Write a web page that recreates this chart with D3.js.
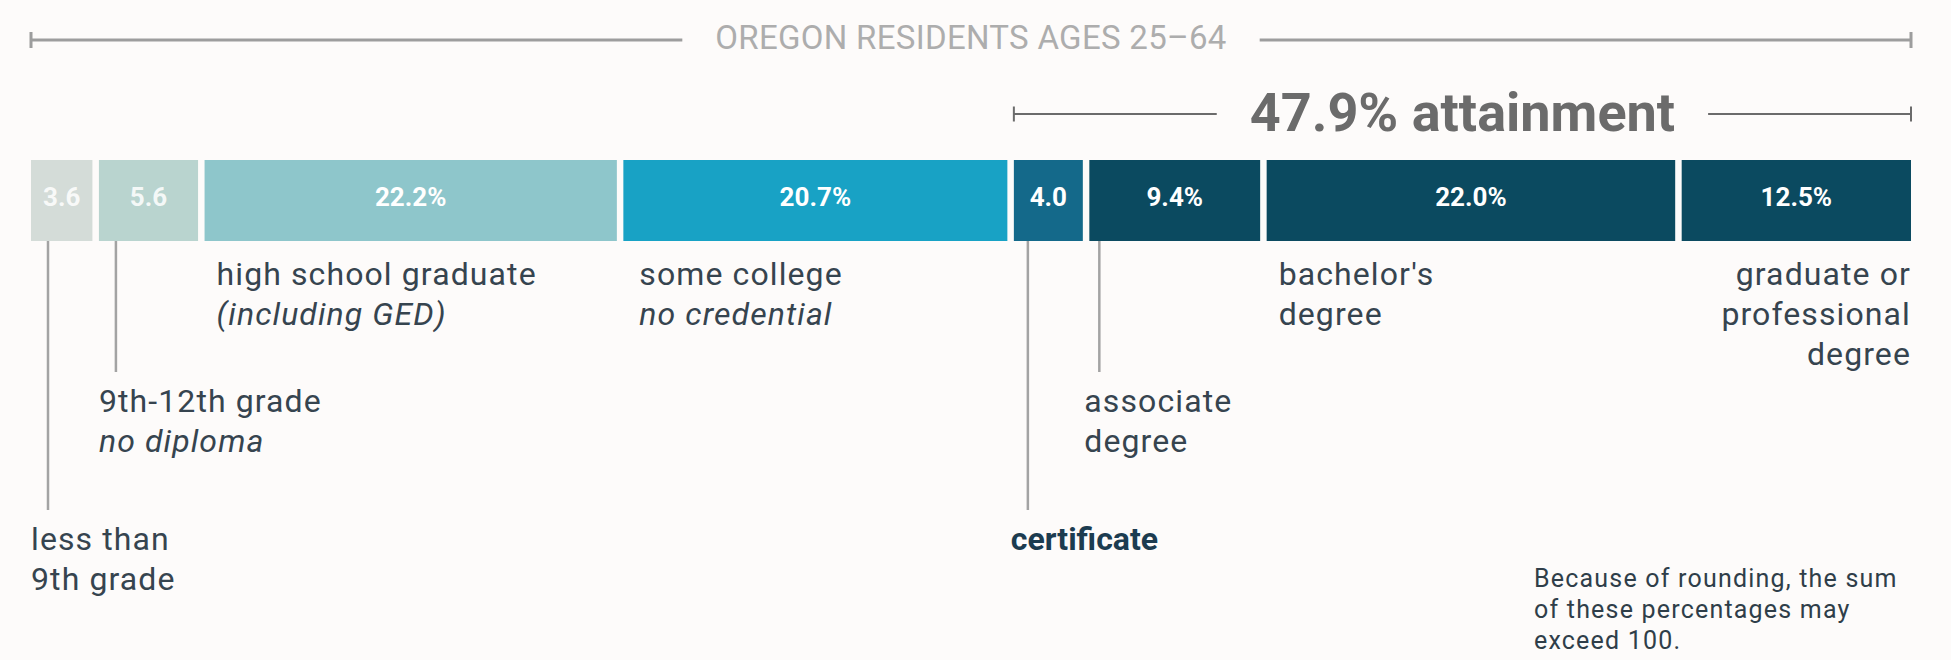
<!DOCTYPE html>
<html>
<head>
<meta charset="utf-8">
<title>Oregon educational attainment</title>
<script src="https://cdn.jsdelivr.net/npm/d3@7"></script>
<style>
  body { margin: 0; background: #fdfbfa; }
  svg { display: block; font-family: Roboto, "Liberation Sans", sans-serif; }
</style>
</head>
<body>
<script>
// shares of Oregon residents 25-64, by highest level of education (%)
var categories = ["less than 9th grade", "9th-12th grade", "high school graduate", "some college",
                  "certificate", "associate degree", "bachelor's degree", "graduate or professional degree"];
var values = [3.6, 5.6, 22.2, 20.7, 4.0, 9.4, 22.0, 12.5];
// how the category names are broken into lines under the bar, plus the italic qualifier
var labelLines = [["less than", "9th grade"], ["9th-12th grade"], ["high school graduate"], ["some college"],
                  ["certificate"], ["associate", "degree"], ["bachelor's", "degree"], ["graduate or", "professional", "degree"]];
var qualifiers = [null, "no diploma", "(including GED)", "no credential", null, null, null, null];
var attainmentFrom = 4;   // categories from "certificate" on count as attainment
var title = "OREGON RESIDENTS AGES 25\u201364";
var footnote = ["Because of rounding, the sum", "of these percentages may", "exceed 100."];

var w = 1951, h = 660;
var gap = 6.5;
var barTop = 160, barH = 81;

var svg = d3.select("body").append("svg")
    .attr("width", w)
    .attr("height", h);

var x = d3.scaleLinear().domain([0, 100]).range([31, 1917.5]);

var color = d3.scaleOrdinal()
    .domain(categories)
    .range(["#d4dcd8", "#b9d4cf", "#8ec6cb", "#18a2c5", "#14698a", "#0b4a60", "#0b4a60", "#0b4a60"]);

// cumulative start of each segment
var data = [];
var acc = 0;
values.forEach(function (v, i) {
    data.push({ name: categories[i], value: v, start: acc, end: acc + v, i: i });
    acc += v;
});
var total = acc;
var left = x(0), right = x(total) - gap;

// top bracket with title
var titleY = 40;
var t = svg.append("text")
    .attr("x", (left + right) / 2)
    .attr("y", 49)
    .attr("text-anchor", "middle")
    .attr("font-size", 33)
    .attr("letter-spacing", 0.3)
    .attr("fill", "#adadad")
    .text(title);
var tb = t.node().getBBox();

function bracket(x0, x1, y, tb, pad, stroke, sw, tick) {
    svg.append("line").attr("x1", x0).attr("x2", tb.x - pad).attr("y1", y).attr("y2", y)
        .attr("stroke", stroke).attr("stroke-width", sw);
    svg.append("line").attr("x1", tb.x + tb.width + pad).attr("x2", x1).attr("y1", y).attr("y2", y)
        .attr("stroke", stroke).attr("stroke-width", sw);
    [x0, x1].forEach(function (xx) {
        svg.append("line").attr("x1", xx).attr("x2", xx).attr("y1", y - tick).attr("y2", y + tick)
            .attr("stroke", stroke).attr("stroke-width", sw);
    });
}
bracket(left, right, titleY, tb, 33, "#9d9d9d", 3, 8);

// attainment bracket
var attain = d3.sum(values.slice(attainmentFrom));
var a0 = x(data[attainmentFrom].start);
var at = svg.append("text")
    .attr("x", (a0 + right) / 2)
    .attr("y", 131)
    .attr("text-anchor", "middle")
    .attr("font-size", 54)
    .attr("font-weight", "bold")
    .attr("fill", "#6b6b6b")
    .text(d3.format(".1f")(attain) + "% attainment");
bracket(a0, right, 114, at.node().getBBox(), 33, "#6b6b6b", 2, 7.5);

// bars
svg.selectAll("rect.bar").data(data).enter().append("rect")
    .attr("class", "bar")
    .attr("x", function (d) { return x(d.start); })
    .attr("y", barTop)
    .attr("width", function (d) { return x(d.end) - x(d.start) - gap; })
    .attr("height", barH)
    .attr("fill", function (d) { return color(d.name); });

svg.selectAll("text.val").data(data).enter().append("text")
    .attr("class", "val")
    .attr("x", function (d) { return (x(d.start) + x(d.end) - gap) / 2; })
    .attr("y", 206)
    .attr("text-anchor", "middle")
    .attr("font-size", 26)
    .attr("font-weight", "bold")
    .attr("fill", "#ffffff")
    .attr("fill-opacity", function (d) { return d.i < 2 ? 0.85 : 1; })
    .text(function (d) {
        var wd = x(d.end) - x(d.start);
        return d3.format(".1f")(d.value) + (wd > 120 ? "%" : "");
    });

// label placement: row (0 top, 1 middle, 2 bottom), offset from bar start, leader line offset
var rowBase = [285, 412, 550];
var place = [
    { row: 2, dx: 0,  lead: 17 },
    { row: 1, dx: 0,  lead: 17 },
    { row: 0, dx: 12 },
    { row: 0, dx: 16 },
    { row: 2, dx: -3, lead: 14 },
    { row: 1, dx: -5, lead: 10 },
    { row: 0, dx: 12 },
    { row: 0, anchorEnd: true }
];
var lineH = 40;

data.forEach(function (d, i) {
    var p = place[i];
    var x0 = x(d.start);
    var y0 = rowBase[p.row];
    var isCert = i === attainmentFrom;
    if (p.lead !== undefined) {
        svg.append("line")
            .attr("x1", x0 + p.lead).attr("x2", x0 + p.lead)
            .attr("y1", barTop + barH).attr("y2", y0 - 40)
            .attr("stroke", "#a3a3a3").attr("stroke-width", 2.5);
    }
    var tx = p.anchorEnd ? x(d.end) - gap : x0 + p.dx;
    var g = svg.append("text")
        .attr("x", tx)
        .attr("y", y0)
        .attr("text-anchor", p.anchorEnd ? "end" : "start")
        .attr("font-size", 32)
        .attr("letter-spacing", isCert ? 0 : 1.1)
        .attr("fill", isCert ? "#1c3c50" : "#36444f")
        .attr("font-weight", isCert ? "bold" : "normal");
    labelLines[i].forEach(function (l, k) {
        g.append("tspan").attr("x", tx).attr("dy", k === 0 ? 0 : lineH).text(l);
    });
    if (qualifiers[i]) {
        g.append("tspan").attr("x", tx).attr("dy", lineH)
            .attr("font-style", "italic").text(qualifiers[i]);
    }
});

// footnote
var fn = svg.append("text")
    .attr("x", 1534)
    .attr("y", 587)
    .attr("font-size", 25)
    .attr("letter-spacing", 1.2)
    .attr("fill", "#2f3e49");
footnote.forEach(function (l, k) {
    fn.append("tspan").attr("x", 1534).attr("dy", k === 0 ? 0 : 31).text(l);
});
</script>
</body>
</html>
